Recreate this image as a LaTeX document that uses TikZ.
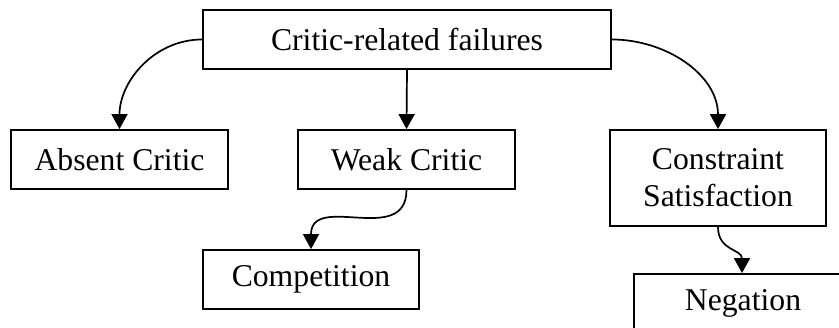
\documentclass[tikz,border=0pt]{standalone}
\usepackage{fontspec}
\setmainfont{Liberation Serif}
\usetikzlibrary{arrows.meta}
\begin{document}
\begin{tikzpicture}[x=1pt,y=-1pt,
  box/.style={draw=black,line width=1.8pt,fill=white,inner sep=0pt,
    align=center,font=\fontsize{31.7}{37}\selectfont,
    minimum height=59pt},
  link/.style={line width=1.7pt,-{Triangle[length=15pt,width=16pt]}}]
  \useasboundingbox (0,0) rectangle (839,328);
  \clip (0,0) rectangle (839,328);

  \node[box,minimum width=408pt] (root) at (407,39.5) {Critic-related failures};
  \node[box,minimum width=217pt] (absent) at (119.5,159.5) {Absent Critic};
  \node[box,minimum width=217pt] (weak) at (406.5,159.5) {Weak Critic};
  \node[box,minimum width=216pt,minimum height=96pt] (cons) at (718,178) {Constraint\\Satisfaction};
  \node[box,minimum width=216pt] (comp) at (311,279.5) {Competition};
  \node[box,minimum width=218pt] (neg) at (743,303.5) {Negation};

  \draw[link] (root.west) to[out=180,in=90] (absent.north);
  \draw[link] (root.south) -- (weak.north);
  \draw[link] (root.east) to[out=0,in=90] (cons.north);
  \draw[link] (weak.south) to[out=-90,in=90,looseness=1.3] (comp.north);
  \draw[link] (cons.south) to[out=-90,in=90,looseness=1.2] ([xshift=-1pt]neg.north);
\end{tikzpicture}
\end{document}
